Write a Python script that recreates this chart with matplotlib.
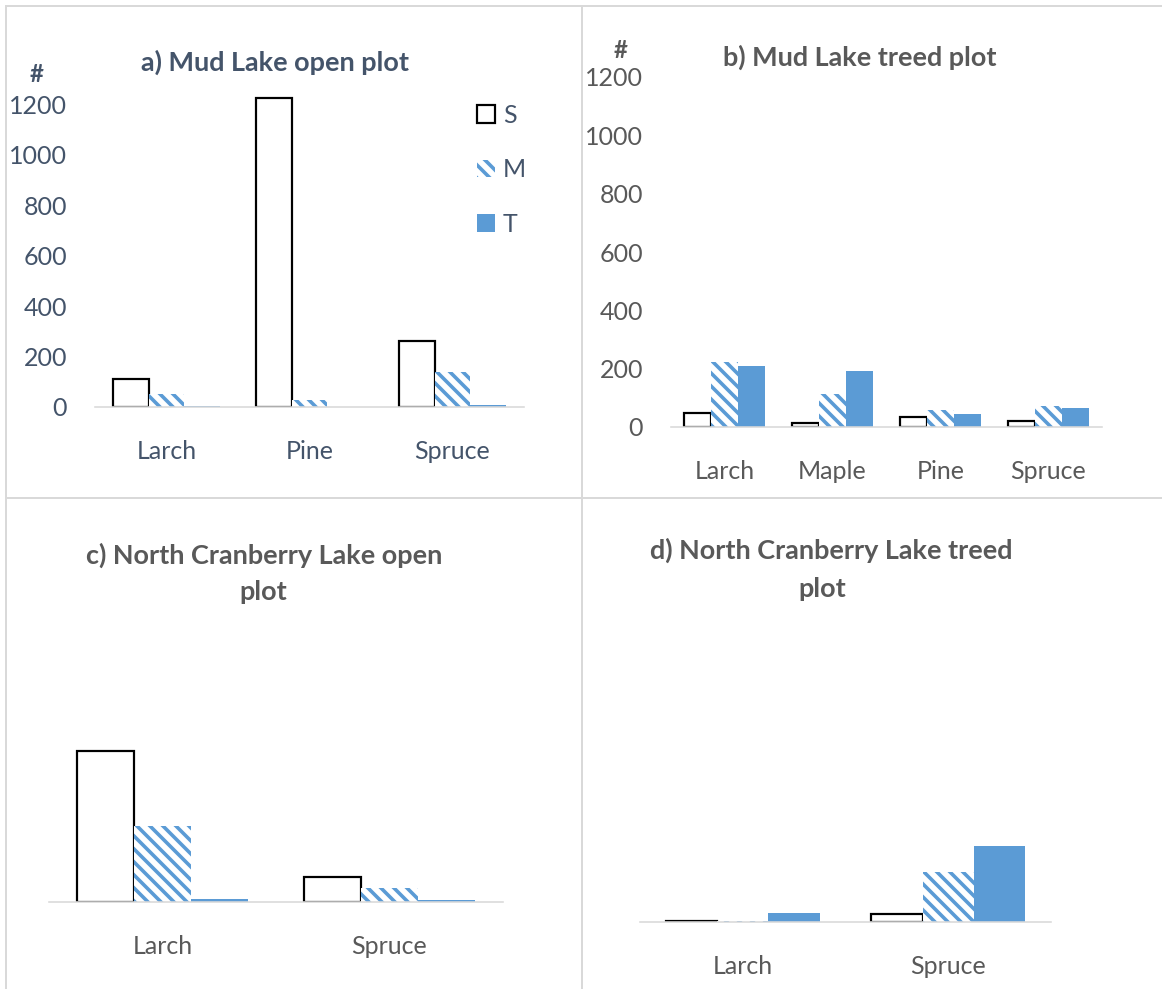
import numpy as np
import matplotlib
matplotlib.use("Agg")
import matplotlib.pyplot as plt
from matplotlib.lines import Line2D

DPI = 78
W, H = 1162, 989

# tree counts per size class (S, M, T) for each plot
mud_open_species = ["Larch", "Pine", "Spruce"]
mud_open_s = [111, 1224, 261]
mud_open_m = [52, 28, 139]
mud_open_t = [5, 1, 8]

mud_treed_species = ["Larch", "Maple", "Pine", "Spruce"]
mud_treed_s = [48, 14, 34, 20]
mud_treed_m = [223, 113, 58, 72]
mud_treed_t = [209, 192, 45, 65]

ncl_open_species = ["Larch", "Spruce"]
ncl_open_s = [598, 99]
ncl_open_m = [301, 55]
ncl_open_t = [12, 8]

ncl_treed_species = ["Larch", "Spruce"]
ncl_treed_s = [4, 27]
ncl_treed_m = [3, 171]
ncl_treed_t = [31, 261]

y_ticks = [0, 200, 400, 600, 800, 1000, 1200]

BLUE = "#5B9BD5"
SLATE = "#44546A"
GREY_TEXT = "#595959"
LINE_GREY = "#D9D9D9"


def pt(px):
    """convert a size in pixels to points at the figure dpi"""
    return px * 72 / DPI


def rect(left, right, top, bottom):
    """axes rectangle from pixel edges (y measured from the top)"""
    return [left / W, 1 - bottom / H, (right - left) / W, (bottom - top) / H]


plt.rcParams["font.family"] = ["Lato", "DejaVu Sans"]
plt.rcParams["hatch.linewidth"] = pt(3.6)


def draw_panel(ax, species, s, m, t, ymax, color, show_y):
    x = np.arange(len(species))
    w = 0.25
    ax.bar(x - w, s, w, facecolor="white", edgecolor="black",
           linewidth=pt(2.2), label="S")
    ax.bar(x, m, w, facecolor="white", edgecolor=BLUE, linewidth=0,
           hatch="\\\\", label="M")
    ax.bar(x + w, t, w, color=BLUE, linewidth=0, label="T")

    ax.set_xlim(-0.5, len(species) - 0.5)
    ax.set_ylim(0, ymax)
    ax.set_xticks(x)
    ax.set_xticklabels(species)
    ax.tick_params(axis="x", length=0, pad=pt(33), labelsize=pt(25),
                   labelcolor=color)
    if show_y:
        ax.set_yticks(y_ticks)
        ax.tick_params(axis="y", length=0, pad=pt(28), labelsize=pt(25),
                       labelcolor=color)
    else:
        ax.set_yticks([])
    for side in ["top", "right", "left"]:
        ax.spines[side].set_visible(False)
    ax.spines["bottom"].set_color(LINE_GREY)
    ax.spines["bottom"].set_linewidth(pt(1.6))
    ax.patch.set_alpha(0)


fig = plt.figure(figsize=(W / DPI, H / DPI), dpi=DPI)

# panel frames
for x0, y0, x1, y1 in [(6, 6, W, 6), (6, 498, W, 498),
                       (6, 6, 6, H), (582, 6, 582, H)]:
    fig.add_artist(Line2D([x0 / W, x1 / W], [1 - y0 / H, 1 - y1 / H],
                          transform=fig.transFigure, color=LINE_GREY,
                          linewidth=pt(2)))

ax_a = fig.add_axes(rect(95, 524, 94, 407))
draw_panel(ax_a, mud_open_species, mud_open_s, mud_open_m, mud_open_t,
           1240, SLATE, True)
ax_a.legend(loc="upper left", bbox_to_anchor=(477 / W, 1 - 104 / H),
            bbox_transform=fig.transFigure, frameon=False, fontsize=pt(25),
            handlelength=0.72, handleheight=0.72, handletextpad=0.32,
            labelspacing=1.25, borderpad=0, borderaxespad=0, labelcolor=SLATE)

ax_b = fig.add_axes(rect(671, 1102, 77, 427))
draw_panel(ax_b, mud_treed_species, mud_treed_s, mud_treed_m, mud_treed_t,
           1200, GREY_TEXT, True)

ax_c = fig.add_axes(rect(49, 503, 599, 902))
draw_panel(ax_c, ncl_open_species, ncl_open_s, ncl_open_m, ncl_open_t,
           1200, GREY_TEXT, False)

ax_d = fig.add_axes(rect(640, 1051, 572, 922))
draw_panel(ax_d, ncl_treed_species, ncl_treed_s, ncl_treed_m, ncl_treed_t,
           1200, GREY_TEXT, False)

# panel titles (wrapped ones drawn line by line) and axis units
title_kw = dict(ha="center", va="center", fontsize=pt(27), fontweight="bold")
titles = [
    (275, 62, "a) Mud Lake open plot", SLATE),
    (860, 57, "b) Mud Lake treed plot", GREY_TEXT),
    (264, 555, "c) North Cranberry Lake open", GREY_TEXT),
    (263, 592, "plot", GREY_TEXT),
    (831, 550, "d) North Cranberry Lake treed", GREY_TEXT),
    (822, 589, "plot", GREY_TEXT),
]
for tx, ty, label, col in titles:
    fig.text(tx / W, 1 - ty / H, label, color=col, **title_kw)

fig.text(37 / W, 1 - 75 / H, "#", ha="center", va="center", fontsize=pt(24),
         fontweight="bold", color=SLATE)
fig.text(621 / W, 1 - 50 / H, "#", ha="center", va="center", fontsize=pt(24),
         fontweight="bold", color=GREY_TEXT)

fig.savefig("out.png", dpi=DPI, facecolor="white")
